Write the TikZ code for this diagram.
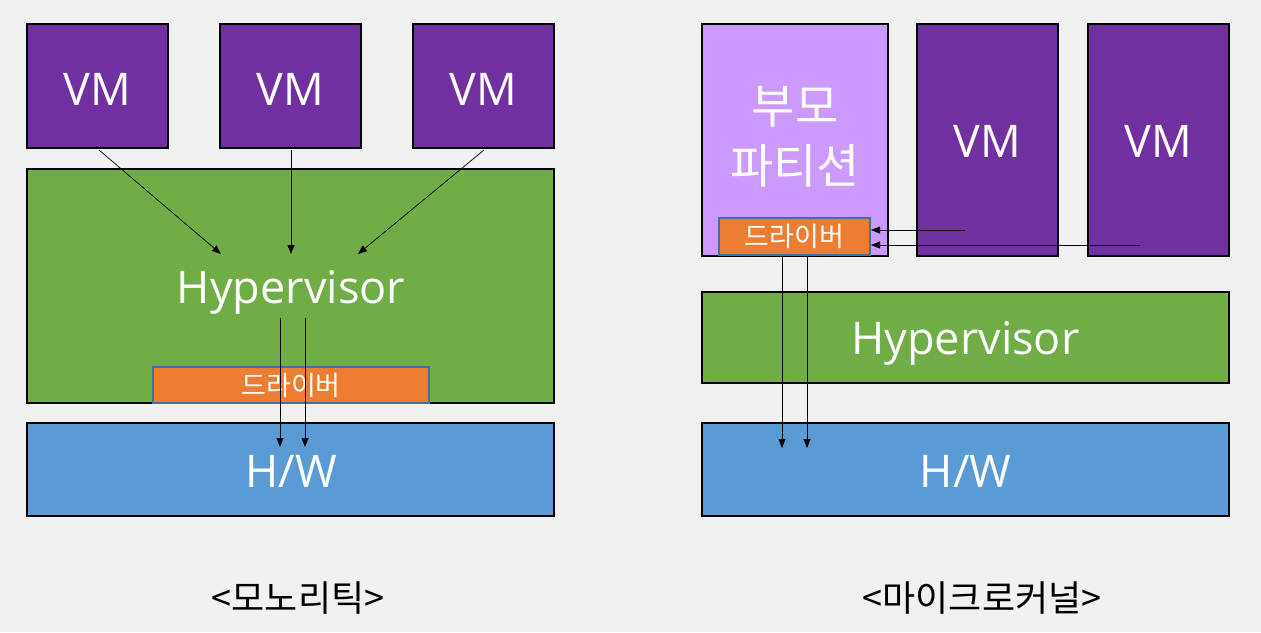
\documentclass[tikz,border=0pt]{standalone}
\usepackage{fontspec}
\setmainfont{Open Sans}
\newfontfamily\kr{Noto Sans CJK KR}
\usetikzlibrary{arrows.meta}
\definecolor{bg}{HTML}{F1F1F1}
\definecolor{vmc}{HTML}{7030A0}
\definecolor{hvc}{HTML}{70AD47}
\definecolor{hwc}{HTML}{5B9BD5}
\definecolor{drc}{HTML}{ED7D31}
\definecolor{drb}{HTML}{41719C}
\definecolor{ppc}{HTML}{CC99FF}
\tikzset{
  blk/.style={draw=black,line width=1.6pt},
  big/.style={text=white,font=\fontsize{45}{52}\selectfont},
  drv/.style={fill=drc,draw=drb,line width=1.5pt},
  drvtext/.style={text=white,font=\kr\fontsize{27}{30}\selectfont},
  arr/.style={draw=black,line width=0.7pt,-{Triangle[length=9pt,width=7pt]}},
  captext/.style={text=black,font=\kr\fontsize{36}{40}\selectfont}
}
\begin{document}
\begin{tikzpicture}[x=1pt,y=-1pt]
\fill[bg] (0,0) rectangle (1261,632);
\useasboundingbox (0,0) rectangle (1261,632);
% ---------- left: monolithic ----------
\path[blk,fill=vmc] (27,24) rectangle (168,148);
\path[blk,fill=vmc] (220,24) rectangle (361,148);
\path[blk,fill=vmc] (413,24) rectangle (554,148);
\node[big] (vm1) at (97.5,89) {VM};
\node[big] (vm2) at (290.5,89) {VM};
\node[big] (vm3) at (483.5,89) {VM};
\path[blk,fill=hvc] (27,169) rectangle (554,403);
\node[big] (hv1) at (291,292) {Hypervisor};
\path[drv] (153,367) rectangle (429,403);
\node[drvtext] (dr1) at (291,385) {드라이버};
\path[blk,fill=hwc] (27,423) rectangle (554,516);
\node[big] (hw1) at (291,471) {H/W};
\coordinate (a1s) at (99,150); \coordinate (a1e) at (221,254);
\coordinate (a2s) at (291,150); \coordinate (a2e) at (291,254);
\coordinate (a3s) at (484,150); \coordinate (a3e) at (358,254);
\draw[arr] (a1s) -- (a1e);
\draw[arr] (a2s) -- (a2e);
\draw[arr] (a3s) -- (a3e);
\coordinate (d1s) at (280,318); \coordinate (d1e) at (280,447);
\coordinate (d2s) at (305,318); \coordinate (d2e) at (305,447);
\draw[arr] (d1s) -- (d1e);
\draw[arr] (d2s) -- (d2e);
\node[captext] (lab1) at (298,598) {<모노리틱>};
% ---------- right: microkernel ----------
\path[blk,fill=ppc] (702,24) rectangle (888,256);
\node[big,font=\kr\fontsize{47}{60}\selectfont,align=center] (pp) at (795,137) {부모\\파티션};
\path[blk,fill=vmc] (917,24) rectangle (1058,256);
\path[blk,fill=vmc] (1088,24) rectangle (1229,256);
\node[big] (vm4) at (987.5,141) {VM};
\node[big] (vm5) at (1158.5,141) {VM};
\path[drv] (719,218) rectangle (870,255);
\node[drvtext] (dr2) at (794.5,236.5) {드라이버};
\coordinate (r1s) at (965,230); \coordinate (r1e) at (871,230);
\coordinate (r2s) at (1140,245); \coordinate (r2e) at (871,245);
\draw[arr] (r1s) -- (r1e);
\draw[arr] (r2s) -- (r2e);
\path[blk,fill=hvc] (702,292) rectangle (1229,383);
\node[big] (hv2) at (965.5,343) {Hypervisor};
\path[blk,fill=hwc] (702,423) rectangle (1229,516);
\node[big] (hw2) at (965.5,471) {H/W};
\coordinate (m1s) at (782,256); \coordinate (m1e) at (782,448);
\coordinate (m2s) at (807,256); \coordinate (m2e) at (807,448);
\draw[arr] (m1s) -- (m1e);
\draw[arr] (m2s) -- (m2e);
\node[captext] (lab2) at (982,598) {<마이크로커널>};
\end{tikzpicture}
\end{document}
